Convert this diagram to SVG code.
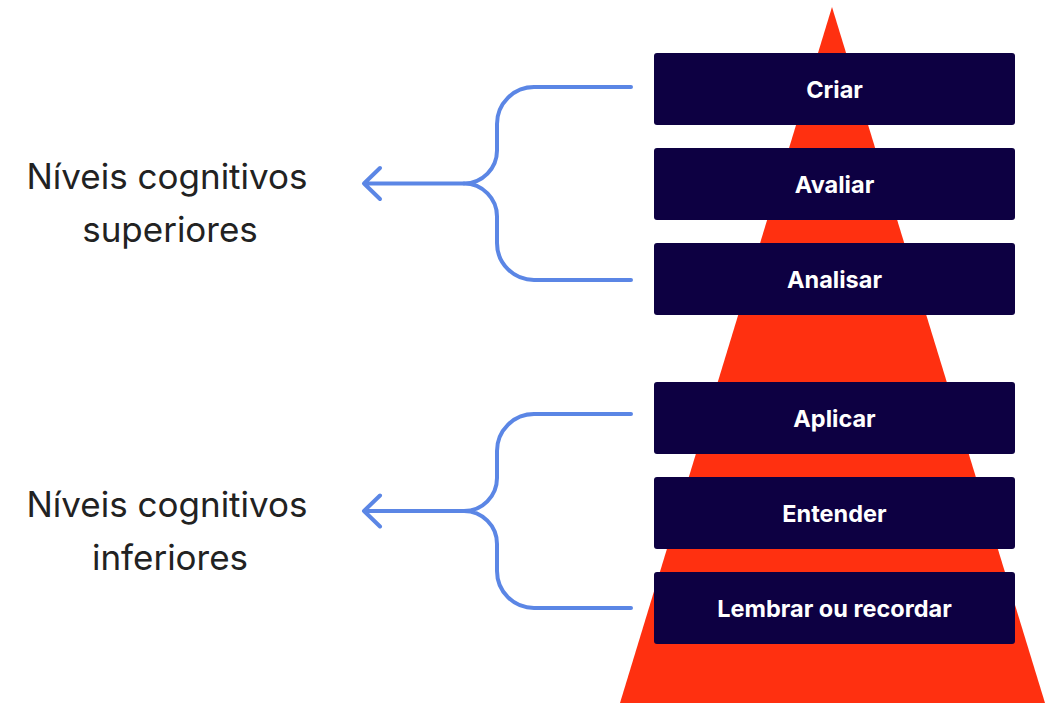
<svg xmlns="http://www.w3.org/2000/svg" width="1053" height="703" viewBox="0 0 1053 703">
<style>
.box{fill:#0D0042}
.lbl{font-family:Inter,"Liberation Sans",sans-serif;font-weight:700;font-size:23.5px;fill:#FFFFFF;text-anchor:middle}
.side{font-family:Inter,"Liberation Sans",sans-serif;font-size:35px;fill:#222222;text-anchor:middle}
.con{fill:none;stroke:#5B86E5;stroke-width:4;stroke-linecap:round;stroke-linejoin:round}
</style>
<rect width="1053" height="703" fill="#FFFFFF"/>
<polygon id="pyramid" points="832,7 1045,703 620,703" fill="#FF3010"/>
<g id="criar"><rect class="box" x="654" y="53" width="361" height="72" rx="3"/><text class="lbl" x="834.5" y="97.5">Criar</text></g>
<g id="avaliar"><rect class="box" x="654" y="148" width="361" height="72" rx="3"/><text class="lbl" x="834.5" y="192.5">Avaliar</text></g>
<g id="analisar"><rect class="box" x="654" y="243" width="361" height="72" rx="3"/><text class="lbl" x="834.5" y="287.5">Analisar</text></g>
<g id="aplicar"><rect class="box" x="654" y="382" width="361" height="72" rx="3"/><text class="lbl" x="834.5" y="426.5">Aplicar</text></g>
<g id="entender"><rect class="box" x="654" y="477" width="361" height="72" rx="3"/><text class="lbl" x="834.5" y="521.5">Entender</text></g>
<g id="lembrar"><rect class="box" x="654" y="572" width="361" height="72" rx="3"/><text class="lbl" x="834.5" y="616.5">Lembrar ou recordar</text></g>
<g id="superiores"><text class="side" x="167" y="189">Níveis cognitivos</text><text class="side" x="170" y="242">superiores</text></g>
<g id="inferiores"><text class="side" x="167" y="517">Níveis cognitivos</text><text class="side" x="170" y="570">inferiores</text></g>
<g id="connectors">
<path class="con" d="M631,87 H534 A37,37 0 0 0 497,124 V150 A33,33 0 0 1 464,183.5 A33,33 0 0 1 497,217 V243 A37,37 0 0 0 534,280 H631"/>
<path class="con" d="M464,183.5 H364 M380,168 L364,183.5 L380,199"/>
<path class="con" d="M631,414 H534 A37,37 0 0 0 497,451 V478 A33,33 0 0 1 464,511 A33,33 0 0 1 497,544 V571 A37,37 0 0 0 534,608 H631"/>
<path class="con" d="M464,511 H364 M380,495.5 L364,511 L380,526.5"/>
</g>
</svg>
